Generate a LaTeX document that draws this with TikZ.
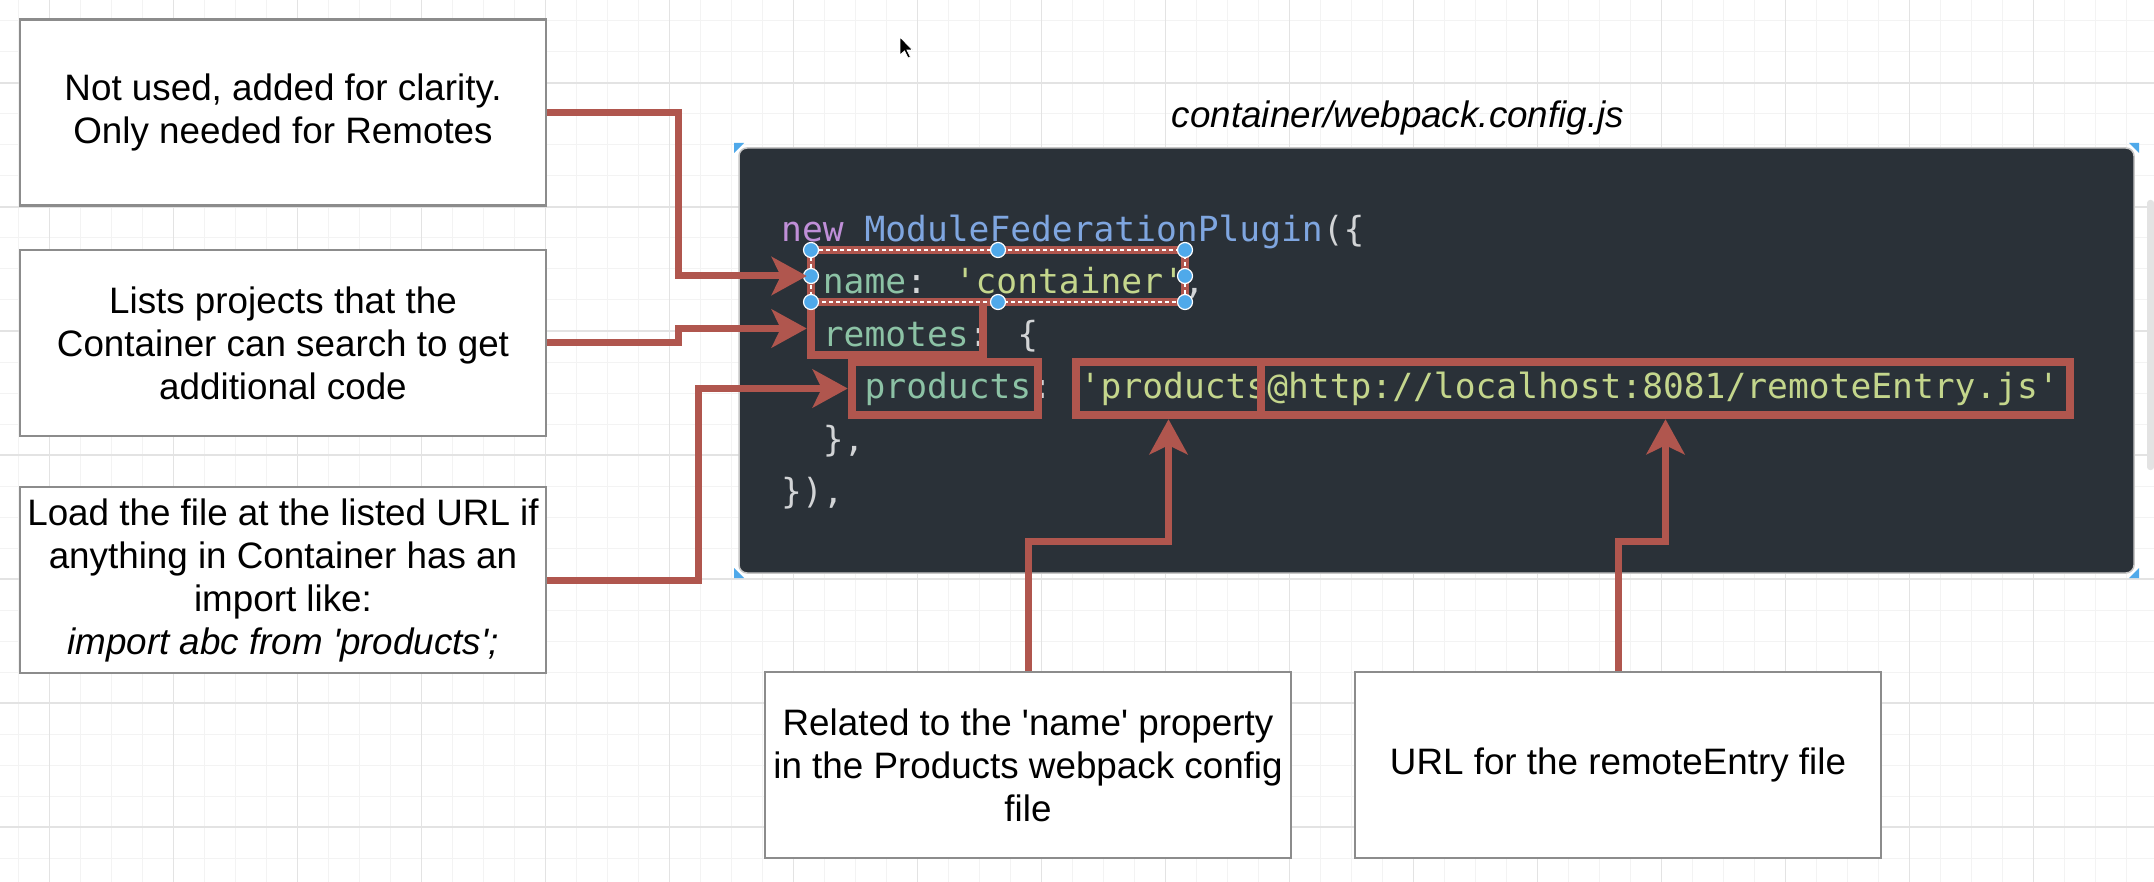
\documentclass[tikz,border=0pt]{standalone}
\usepackage{fontspec}
\setmainfont{Liberation Sans}[Ligatures=TeXOff]
\newfontfamily\codefont{DejaVu Sans Mono}[Ligatures=TeXOff]
\usetikzlibrary{arrows.meta}

% colours
\definecolor{panelbg}{HTML}{2A3138}
\definecolor{hlred}{HTML}{B0564E}
\definecolor{boxgray}{HTML}{8C8C8C}
\definecolor{gridminor}{HTML}{F3F3F3}
\definecolor{gridmajor}{HTML}{E3E3E3}
\definecolor{handleblue}{HTML}{4FA9EA}
\definecolor{kwcol}{HTML}{C08FD8}
\definecolor{fncol}{HTML}{7FA6E0}
\definecolor{keycol}{HTML}{8CC2A5}
\definecolor{strcol}{HTML}{C4D68C}
\definecolor{punccol}{HTML}{D2D4D6}

% syntax colouring
\newcommand{\kw}[1]{\textcolor{kwcol}{#1}}
\newcommand{\fn}[1]{\textcolor{fncol}{#1}}
\newcommand{\ky}[1]{\textcolor{keycol}{#1}}
\newcommand{\st}[1]{\textcolor{strcol}{#1}}
\newcommand{\pc}[1]{\textcolor{punccol}{#1}}

\tikzset{
  note/.style={draw=boxgray, line width=2.6, fill=white, minimum width=526,
    minimum height=186, align=center, inner sep=0,
    font=\fontsize{36.8}{43}\selectfont},
  title/.style={anchor=base, inner sep=0, font=\fontsize{36.8}{43}\selectfont\itshape},
  code/.style={anchor=base west, inner sep=0, font=\codefont\fontsize{34.6}{52}\selectfont},
  hl/.style={draw=hlred, line width=8.5, inner sep=0, minimum height=53},
  link/.style={draw=hlred, line width=7, -{Stealth[length=35pt, width=38pt, inset=9pt]}},
  handle/.style={fill=handleblue, draw=white, line width=1.2}
}

\begin{document}
\begin{tikzpicture}[x=1pt, y=-1pt]

    % canvas and its grid
    \useasboundingbox (0,0) rectangle (2154,882);
    \fill[white] (0,0) rectangle (2154,882);
    \foreach \x in {0,...,68}
        \draw[gridminor, line width=1] ({18.5+31*\x},0) -- ++(0,882);
    \foreach \y in {0,...,27}
        \draw[gridminor, line width=1] (0,{21+31*\y}) -- ++(2154,0);
    \foreach \x in {0,...,16}
        \draw[gridmajor, line width=1.5] ({49.5+124*\x},0) -- ++(0,882);
    \foreach \y in {0,...,6}
        \draw[gridmajor, line width=1.5] (0,{83+124*\y}) -- ++(2154,0);
    \fill[gray!22, rounded corners=3pt] (2147,200) rectangle (2154,470);

    % mouse pointer
    \draw[fill=black, draw=white, line width=0.8] (900,37) -- ++(0,18) -- ++(4.5,-4)
        -- ++(3.5,7) -- ++(2.5,-1) -- ++(-3.5,-7) -- ++(5.5,0) -- cycle;

    % file name
    \node[title] (ttl) at (1398,128) {container/webpack.config.js};

    % code panel
    \draw[fill=panelbg, draw=gray!45, line width=1.5, rounded corners=8pt]
        (739,148) rectangle (2134,573);
    \fill[handleblue] (734,143) -- (744,143) -- (734,153) -- cycle;
    \fill[handleblue] (2139,143) -- (2129,143) -- (2139,153) -- cycle;
    \fill[handleblue] (734,578) -- (744,578) -- (734,568) -- cycle;
    \fill[handleblue] (2139,578) -- (2129,578) -- (2139,568) -- cycle;

    \node[code] (l1) at (781,242) {\kw{new} \fn{ModuleFederationPlugin}\pc{(\{}};
    \node[code] (l2) at (822.7,294) {\ky{name}\pc{:} \st{'container'}\pc{,}};
    \node[code] (l3) at (822.7,346) {\ky{remotes}\pc{:} \pc{\{}};
    \node[code] (l4) at (864.4,398) {\ky{products}\pc{:} \st{'products@http://localhost:8081/remoteEntry.js'}};
    \node[code] (l5) at (822.7,451) {\pc{\},}};
    \node[code] (l6) at (781,503) {\pc{\}),}};

    % highlighted parts of the code
    \node[hl, minimum width=374, minimum height=52] (hlname) at (998,276) {};
    \node[hl, minimum width=172] (hlremotes) at (897,328.5) {};
    \node[hl, minimum width=186] (hlkey) at (945,388.5) {};
    \node[hl, minimum width=185] (hlpname) at (1168.5,388.5) {};
    \node[hl, minimum width=809] (hlurl) at (1665.5,388.5) {};

    % selection of the name box
    \draw[white, line width=1.2, dash pattern=on 4pt off 3pt] (811,250) rectangle (1185,302);
    \foreach \x/\y in {811/250, 998/250, 1185/250, 811/276, 1185/276, 811/302, 998/302, 1185/302}
        \draw[handle] (\x,\y) circle (7.5pt);

    % notes
    \node[note] (nused) at (283,112.5) {Not used, added for clarity.\\Only needed for Remotes};
    \node[note] (nremotes) at (283,343) {Lists projects that the\\Container can search to get\\additional code};
    \node[note] (nload) at (283,580) {Load the file at the listed URL if\\anything in Container has an\\import like:\\\textit{import abc from 'products';}};
    \node[note] (nname) at (1028,765) {Related to the 'name' property\\in the Products webpack config\\file};
    \node[note] (nurl) at (1618,765) {URL for the remoteEntry file};

    % connectors
    \draw[link] (nused.east) -- ++(131,0) |- (hlname.west);
    \draw[link] (nremotes.east) -- ++(131,0) |- (hlremotes.west);
    \draw[link] (nload.east) -- ++(151,0) |- (hlkey.west);
    \draw[link] (nname.north) -- ++(0,-129) -| (hlpname.south);
    \draw[link] (nurl.north) -- ++(0,-129) -| (hlurl.south);

\end{tikzpicture}
\end{document}
